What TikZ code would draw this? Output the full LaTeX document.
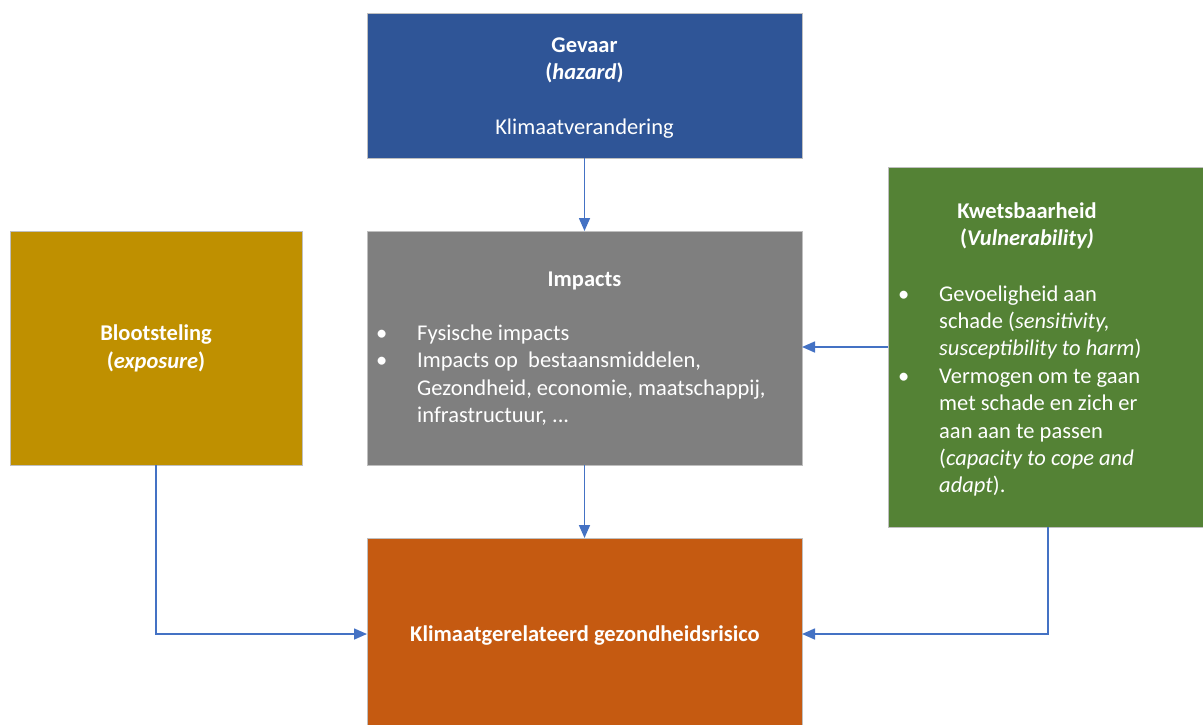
\documentclass[tikz,border=0pt]{standalone}
\usepackage{fontspec}
\setmainfont{Carlito}
\usetikzlibrary{arrows.meta}
\definecolor{cblue}{HTML}{2F5597}
\definecolor{cgray}{HTML}{7F7F7F}
\definecolor{cgold}{HTML}{BF9000}
\definecolor{cgreen}{HTML}{548235}
\definecolor{corange}{HTML}{C55A11}
\definecolor{cborder}{HTML}{BFBFBF}
\definecolor{carrow}{HTML}{4472C4}
\newcommand{\bul}{\makebox[41pt][l]{\textbullet}}
\newcommand{\ind}{\hspace*{41pt}}
\begin{document}
\begin{tikzpicture}[x=1pt,y=-1pt,
  box/.style={draw=cborder, line width=0.8pt, rectangle, inner sep=0pt, outer sep=0pt},
  txt/.style={text=white, inner sep=0pt, font=\fontsize{22.5pt}{27.4pt}\selectfont},
  arr/.style={draw=carrow, line width=1.6pt, -{Triangle[length=13pt,width=11pt]}}]
\useasboundingbox (0,0) rectangle (1203,724);
\clip (0,0) rectangle (1203,724);
% boxes
\node[box, fill=cblue, minimum width=435pt, minimum height=145pt] (gev) at (584.5,85.5) {};
\node[box, fill=cgray, minimum width=435pt, minimum height=234pt] (imp) at (584.5,348) {};
\node[box, fill=cgold, minimum width=292pt, minimum height=234pt] (bloot) at (156,348) {};
\node[box, fill=cgreen, minimum width=320pt, minimum height=360pt] (kw) at (1048,347) {};
\node[box, fill=corange, minimum width=435pt, minimum height=192pt] (risk) at (584.5,634) {};
% texts
\node[txt, align=center] (gevt) at (584.5,88) {\strut\textbf{Gevaar}\\\textbf{(\textit{hazard})}\\\strut\\Klimaatverandering\strut};
\node[txt, align=center] (impt) at (584.5,281.5) {\strut\textbf{Impacts}\strut};
\node[txt, align=left, anchor=west] (impl) at (376,376) {\strut\bul Fysische impacts\\\bul Impacts op\ \ bestaansmiddelen,\\\ind Gezondheid, economie, maatschappij,\\\ind infrastructuur, ...\strut};
\node[txt, align=center] (blt) at (156,349) {\strut\textbf{Blootsteling}\\\textbf{(\textit{exposure})}\strut};
\node[txt, align=center] (kwt) at (1027,226.5) {\strut\textbf{Kwetsbaarheid}\\\textbf{(\textit{Vulnerability)}}\strut};
\node[txt, align=left, anchor=west] (kwl) at (898,391.5) {\strut\bul Gevoeligheid aan\\\ind schade (\textit{sensitivity,}\\\ind\textit{susceptibility to harm})\\\bul Vermogen om te gaan\\\ind met schade en zich er\\\ind aan aan te passen\\\ind(\textit{capacity to cope and}\\\ind\textit{adapt}).\strut};
\node[txt, align=center] (riskt) at (585,636.5) {\strut\textbf{Klimaatgerelateerd gezondheidsrisico}\strut};
% connectors
\draw[arr] (gev) -- (imp);
\draw[arr] (imp) -- (risk);
\draw[arr] (kw.west) -- (kw.west -| imp.east);
\draw[arr] (bloot.south) |- (risk.west);
\draw[arr] (kw.south) |- (risk.east);
\end{tikzpicture}
\end{document}
